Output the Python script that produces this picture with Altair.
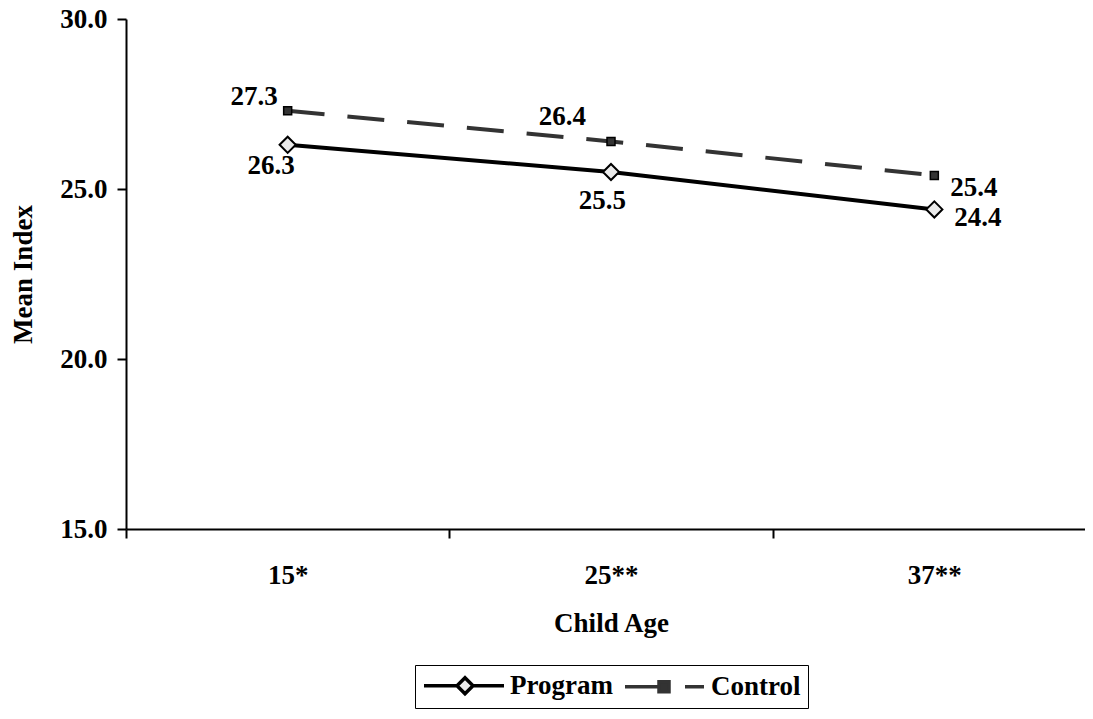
import altair as alt
import pandas as pd

# ---- data ----
ages = ["15*", "25**", "37**"]
program = [26.3, 25.5, 24.4]
control = [27.3, 26.4, 25.4]
series_names = ["Program", "Control"]
y_ticks = [15, 20, 25, 30]

rows = []
for s, vals in zip(series_names, [program, control]):
    for a, v in zip(ages, vals):
        rows.append({"age": a, "series": s, "value": v, "label": f"{v:.1f}"})
df = pd.DataFrame(rows)

# ---- style ----
FONT = "Liberation Serif"
FS = 27
# label placement (align, dx, dy) per point
label_style = {
    ("Control", "15*"): ("right", -10, -6),
    ("Program", "15*"): ("right", 7, 29),
    ("Control", "25**"): ("right", -25, -16),
    ("Program", "25**"): ("right", 15, 37),
    ("Control", "37**"): ("left", 16, 21),
    ("Program", "37**"): ("left", 20, 17),
}

x_enc = alt.X(
    "age:N",
    sort=ages,
    scale=alt.Scale(type="band", domain=ages, range=[0, 970], paddingInner=0, paddingOuter=0),
    axis=alt.Axis(title="Child Age", tickBand="extent", labelAngle=0,
                  labelPadding=24, titlePadding=22),
)
y_enc = alt.Y(
    "value:Q",
    scale=alt.Scale(domain=[15, 30], nice=False, zero=False),
    axis=alt.Axis(values=y_ticks, format=".1f", title="Mean Index",
                  labelPadding=10, titlePadding=22),
)

base = alt.Chart(df)

line_prog = base.transform_filter("datum.series == 'Program'").mark_line(
    color="black", strokeWidth=4
).encode(x=x_enc, y=y_enc)

line_ctrl = base.transform_filter("datum.series == 'Control'").mark_line(
    color="#333333", strokeWidth=4, strokeDash=[37, 23]
).encode(x=x_enc, y=y_enc)

pts_prog = base.transform_filter("datum.series == 'Program'").mark_point(
    shape="diamond", filled=True, fill="#ebebeb", stroke="black",
    strokeWidth=2, size=260, opacity=1
).encode(x=x_enc, y=y_enc)

pts_ctrl = base.transform_filter("datum.series == 'Control'").mark_point(
    shape="square", filled=True, fill="#333333", stroke="black",
    strokeWidth=1.5, size=64, opacity=1
).encode(x=x_enc, y=y_enc)

text_layers = []
for (s, a), (al, dx, dy) in label_style.items():
    t = base.transform_filter(
        f"datum.series == '{s}' && datum.age == '{a}'"
    ).mark_text(
        align=al, baseline="alphabetic", dx=dx, dy=dy, font=FONT,
        fontSize=FS, fontWeight="bold", color="black"
    ).encode(x=x_enc, y=y_enc, text="label:N")
    text_layers.append(t)

prog_path = "M-2.3,0L4.3,0M4.3,0L5.9,-1.6L7.5,0L5.9,1.6ZM7.5,0L13.7,0"
ctrl_path = "M-2.3,0L4.5,0M4.5,-1L6.5,-1L6.5,1L4.5,1ZM9.7,0L13.5,0"

leg = alt.Legend(
    title=None, orient="none", legendX=289, legendY=646, direction="horizontal",
    symbolSize=100, symbolStrokeWidth=3.5, labelOffset=61, columnPadding=5,
    padding=7, strokeColor="black", labelFont=FONT, labelFontSize=FS,
    labelFontWeight="bold", labelColor="black", symbolOpacity=1,
)
legend_layer = base.transform_filter("datum.value < 0").mark_point(
    strokeWidth=3.5, opacity=1
).encode(
    x=x_enc, y=y_enc,
    shape=alt.Shape("series:N", scale=alt.Scale(domain=series_names, range=[prog_path, ctrl_path]), legend=leg),
    fill=alt.Fill("series:N", scale=alt.Scale(domain=series_names, range=["#ebebeb", "#333333"]), legend=leg),
    stroke=alt.Stroke("series:N", scale=alt.Scale(domain=series_names, range=["#000000", "#333333"]), legend=leg),
)

chart = alt.layer(
    line_ctrl, line_prog, pts_ctrl, pts_prog, *text_layers, legend_layer
).properties(
    width=959, height=510,
    padding={"left": 118, "top": 11, "right": 0, "bottom": 182},
    autosize=alt.AutoSizeParams(type="none"),
).configure_axis(
    labelFont=FONT, labelFontSize=FS, labelFontWeight="bold", labelColor="black",
    titleFont=FONT, titleFontSize=FS, titleFontWeight="bold", titleColor="black",
    domainColor="black", domainWidth=2, tickColor="black", tickWidth=2, tickSize=9,
    grid=False,
).configure_view(stroke=None)

chart.save("out.html", embed_options={"renderer": "svg", "actions": False})
